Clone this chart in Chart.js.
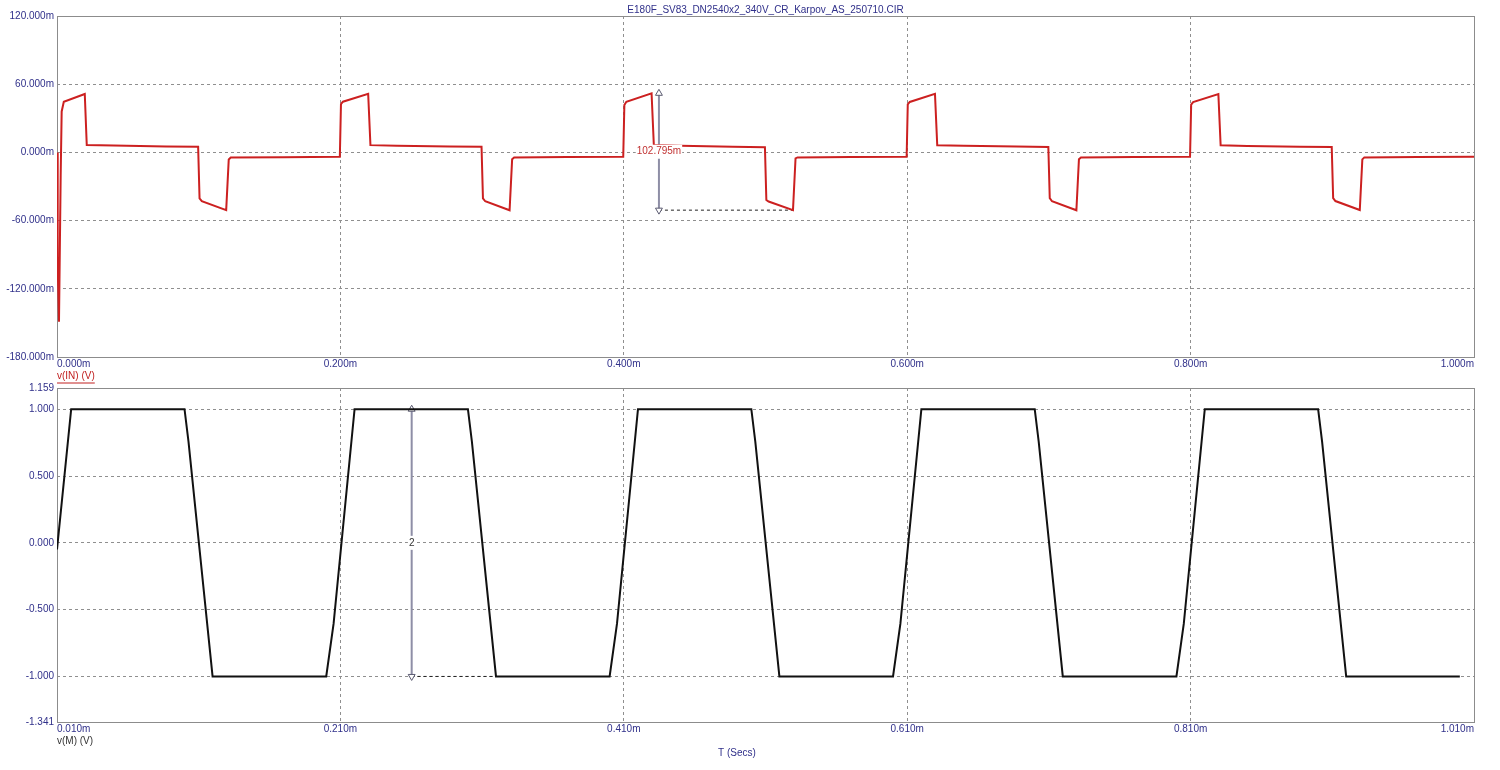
<!DOCTYPE html>
<html>
<head>
<meta charset="utf-8">
<script src="https://cdn.jsdelivr.net/npm/chart.js@4"></script>
<style>
  body { margin: 0; background: #fff; }
  .box { position: absolute; left: 0; width: 1500px; }
  #topBox { top: 0; height: 385px; }
  #botBox { top: 372px; height: 398px; }
</style>
</head>
<body>
<div class="box" id="topBox"><canvas id="topChart"></canvas></div>
<div class="box" id="botBox"><canvas id="botChart"></canvas></div>
<script>
// v(IN) en mV contra tiempo en µs
const topT = [0, 0.5, 1.4, 2.6, 3.3, 4.8, 19.6, 21.0, 40, 77, 99.6,
  100.6, 102.2, 119.4, 121.2, 122.6, 160, 199.6,
  200.4, 201.8, 219.6, 221.2, 240, 277, 299.6,
  300.6, 302.2, 319.4, 321.2, 322.6, 360, 399.6,
  400.4, 401.8, 419.6, 421.2, 440, 477, 499.6,
  500.6, 502.2, 519.4, 521.2, 522.6, 560, 599.6,
  600.4, 601.8, 619.6, 621.2, 640, 677, 699.6,
  700.6, 702.2, 719.4, 721.2, 722.6, 760, 799.6,
  800.4, 801.8, 819.6, 821.2, 840, 877, 899.6,
  900.6, 902.2, 919.4, 921.2, 922.6, 960, 1000];
const topV = [0, -100, -149, -20, 36, 44.5, 51.4, 6.5, 6.0, 5.3, 5.0,
  -40.5, -42.9, -50.8, -6.2, -4.5, -4.2, -3.8,
  42.5, 44.6, 51.6, 6.4, 5.9, 5.2, 4.9,
  -40.4, -43.0, -50.9, -6.0, -4.5, -4.1, -3.8,
  41.7, 44.5, 51.995, 6.5, 5.8, 5.0, 4.5,
  -41.9, -43.2, -50.8, -5.2, -4.4, -4.0, -3.8,
  42.3, 44.4, 51.5, 6.3, 5.8, 5.1, 4.8,
  -40.3, -43.0, -50.9, -6.0, -4.5, -4.1, -3.8,
  42.0, 44.3, 51.3, 6.2, 5.7, 5.0, 4.7,
  -40.2, -42.8, -50.7, -6.1, -4.4, -4.0, -3.8];

// v(M) en V contra tiempo en µs
const botT = [10, 20, 100, 102.8, 119.8, 200, 205.2, 220, 300, 302.8, 319.8,
  400, 405.2, 420, 500, 502.8, 519.8, 600, 605.2, 620, 700, 702.8, 719.8,
  800, 805.2, 820, 900, 902.8, 919.8, 1000];
const botV = [-0.05, 1, 1, 0.757, -1, -1, -0.605, 1, 1, 0.757, -1,
  -1, -0.605, 1, 1, 0.757, -1, -1, -0.605, 1, 1, 0.757, -1,
  -1, -0.605, 1, 1, 0.757, -1, -1];

const topXTicks = [0, 200, 400, 600, 800, 1000];
const topYTicks = [-180, -120, -60, 0, 60, 120];
const botXTicks = [10, 210, 410, 610, 810, 1010];
const botYTicks = [-1.341, -1, -0.5, 0, 0.5, 1, 1.159];

// cursores de medida: tiempo y los índices de los puntos medidos
const topCursorT = 424.8, topHiIdx = 34, topLoIdx = 41;
const botCursorT = 260.3, botHiIdx = 7, botLoIdx = 10;

const fileName = 'E180F_SV83_DN2540x2_340V_CR_Karpov_AS_250710.CIR';

const NAVY = '#30308a';
Chart.defaults.font.family = "Arial, 'Liberation Sans', sans-serif";
Chart.defaults.font.size = 10;
Chart.defaults.color = NAVY;

const pts = (xs, ys) => xs.map((x, i) => ({ x, y: ys[i] }));
const setTicks = list => s => { s.ticks = list.map(v => ({ value: v })); };

// marco gris alrededor del área de trazado
const framePlugin = {
  id: 'frame',
  beforeDatasetsDraw(chart) {
    const { ctx, chartArea: a } = chart;
    ctx.save();
    ctx.strokeStyle = '#8c8c8c';
    ctx.lineWidth = 1;
    ctx.strokeRect(a.left + 0.5, a.top + 0.5, a.width, a.height);
    ctx.restore();
  }
};

// etiqueta del cursor en el centro de la flecha
const cursorLabel = (dsIndex, text, color) => ({
  id: 'cursorLabel',
  afterDatasetsDraw(chart) {
    const meta = chart.getDatasetMeta(dsIndex);
    const [p0, p1] = meta.data;
    const x = p0.x, y = (p0.y + p1.y) / 2;
    const { ctx } = chart;
    ctx.save();
    ctx.font = "10px Arial, 'Liberation Sans', sans-serif";
    const w = ctx.measureText(text).width;
    ctx.fillStyle = '#fff';
    ctx.fillRect(x - w / 2 - 1, y - 7, w + 2, 14);
    ctx.fillStyle = color;
    ctx.textAlign = 'center';
    ctx.textBaseline = 'middle';
    ctx.fillText(text, x, y);
    ctx.restore();
  }
});

// subrayado del nombre de la traza roja
const underlinePlugin = {
  id: 'underline',
  afterDraw(chart) {
    const s = chart.scales.x;
    const { ctx } = chart;
    ctx.save();
    ctx.font = "10px Arial, 'Liberation Sans', sans-serif";
    const w = ctx.measureText(s.options.title.text).width;
    const y = s.bottom - 6 + 6.5;
    ctx.strokeStyle = '#c02020';
    ctx.lineWidth = 1;
    ctx.beginPath();
    ctx.moveTo(s.left, y + 0.5);
    ctx.lineTo(s.left + w, y + 0.5);
    ctx.stroke();
    ctx.restore();
  }
};

const gridOpts = { color: '#8f8f8f', lineWidth: 1, drawTicks: false };
const borderOpts = { display: false, dash: [3, 3] };

const cursorSets = (t, hi, lo, endT) => [
  {
    data: [{ x: t, y: hi }, { x: t, y: lo }],
    borderColor: '#8e8ea6', borderWidth: 2,
    pointStyle: 'triangle', pointRadius: 4, pointRotation: [0, 180],
    pointBackgroundColor: '#fff', pointBorderColor: '#5a5a70', pointBorderWidth: 1
  },
  {
    data: [{ x: t, y: lo }, { x: endT, y: lo }],
    borderColor: '#222', borderWidth: 1, borderDash: [3, 3], pointRadius: 0
  }
];

const fmt = n => String(Number(n.toFixed(3)));

// 1. Gráfica superior: v(IN)
const tHi = topV[topHiIdx], tLo = topV[topLoIdx];
new Chart(document.getElementById('topChart'), {
  type: 'line',
  data: {
    datasets: [
      { data: pts(topT, topV), borderColor: '#cc2020', borderWidth: 2, pointRadius: 0, tension: 0 },
      ...cursorSets(topCursorT, tHi, tLo, topT[topLoIdx])
    ]
  },
  options: {
    responsive: true,
    maintainAspectRatio: false,
    animation: false,
    events: [],
    layout: { padding: { left: 0, right: 26, top: 0, bottom: 3 } },
    plugins: {
      legend: { display: false },
      tooltip: { enabled: false },
      title: {
        display: true, text: fileName, color: NAVY, fullSize: false,
        font: { size: 10, weight: 'normal' }, padding: { top: 4, bottom: 0 }
      }
    },
    scales: {
      x: {
        type: 'linear', min: 0, max: 1000,
        afterBuildTicks: setTicks(topXTicks),
        afterFit: s => { s.height = 25; },
        ticks: { align: 'inner', padding: 1, maxRotation: 0, callback: v => (v / 1000).toFixed(3) + 'm' },
        grid: gridOpts, border: borderOpts,
        title: { display: true, text: 'v(IN) (V)', align: 'start', color: '#c02020', padding: 0 }
      },
      y: {
        min: -180, max: 120,
        afterBuildTicks: setTicks(topYTicks),
        afterFit: s => { s.width = 57; },
        ticks: { padding: 3, callback: v => v.toFixed(3) + 'm' },
        grid: gridOpts, border: borderOpts
      }
    }
  },
  plugins: [framePlugin, cursorLabel(1, (tHi - tLo).toFixed(3) + 'm', '#c03030'), underlinePlugin]
});

// 2. Gráfica inferior: v(M)
const bHi = botV[botHiIdx], bLo = botV[botLoIdx];
new Chart(document.getElementById('botChart'), {
  type: 'line',
  data: {
    datasets: [
      { data: pts(botT, botV), borderColor: '#111', borderWidth: 2, pointRadius: 0, tension: 0 },
      ...cursorSets(botCursorT, bHi, bLo, botT[botLoIdx])
    ]
  },
  options: {
    responsive: true,
    maintainAspectRatio: false,
    animation: false,
    events: [],
    layout: { padding: { left: 0, right: 26, top: 16, bottom: 11 } },
    plugins: {
      legend: { display: false },
      tooltip: { enabled: false },
      subtitle: {
        display: true, position: 'bottom', text: 'T (Secs)', color: NAVY,
        font: { size: 10, weight: 'normal' }, padding: 0
      }
    },
    scales: {
      x: {
        type: 'linear', min: 10, max: 1010,
        afterBuildTicks: setTicks(botXTicks),
        afterFit: s => { s.height = 25; },
        ticks: { align: 'inner', padding: 1, maxRotation: 0, callback: v => (v / 1000).toFixed(3) + 'm' },
        grid: gridOpts, border: borderOpts,
        title: { display: true, text: 'v(M) (V)', align: 'start', color: '#333', padding: 0 }
      },
      y: {
        min: -1.341, max: 1.159,
        afterBuildTicks: setTicks(botYTicks),
        afterFit: s => { s.width = 57; },
        ticks: { padding: 3, callback: v => v.toFixed(3) },
        grid: gridOpts, border: borderOpts
      }
    }
  },
  plugins: [framePlugin, cursorLabel(1, fmt(bHi - bLo), '#333')]
});
</script>
</body>
</html>
